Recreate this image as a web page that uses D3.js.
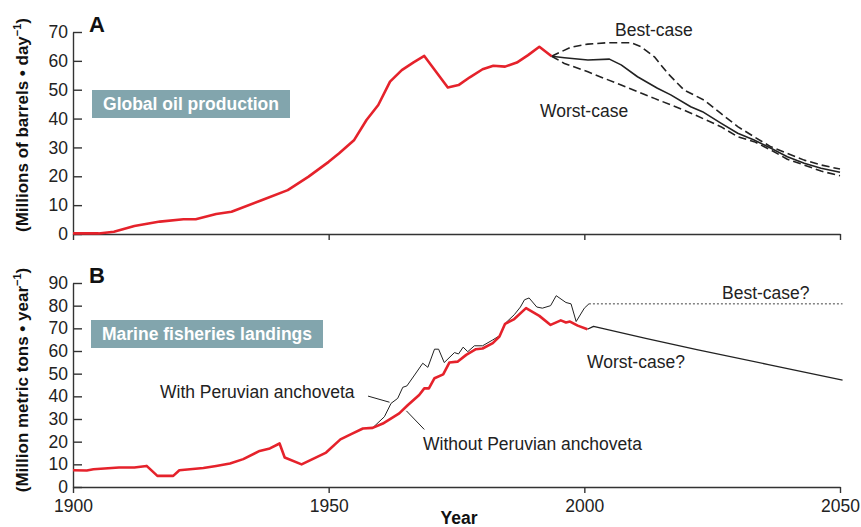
<!DOCTYPE html>
<html>
<head>
<meta charset="utf-8">
<script src="https://cdn.jsdelivr.net/npm/d3@7"></script>
<style>
  body { margin: 0; background: #fff; }
  svg { font-family: "Liberation Sans", Arial, Helvetica, sans-serif; }
  .axis path, .axis line { stroke: #333; stroke-width: 1.4; }
  .axis text { font-size: 17.5px; fill: #222; font-family: "Liberation Sans", Arial, sans-serif; }
</style>
</head>
<body>
<div id="chart"></div>
<script>
// ---- panel A : global oil production ----
var oilYears = [1900, 1905, 1908, 1912, 1917, 1921.6, 1924, 1928, 1931, 1937, 1942, 1946, 1950, 1952,
                1955, 1957.4, 1959.7, 1962, 1964.3, 1966.6, 1968.7, 1973.3, 1975.4, 1977.6, 1980.1,
                1982.2, 1984.5, 1986.8, 1989, 1991.2, 1993.6];
var oilValues = [0.2, 0.2, 0.8, 2.8, 4.3, 5.1, 5.1, 6.9, 7.7, 11.8, 15.2, 19.8, 25, 27.9,
                 32.6, 39.5, 44.7, 52.8, 56.8, 59.5, 61.7, 50.8, 51.6, 54.3, 57.1,
                 58.3, 58, 59.4, 62, 64.9, 61.6];

var midYears = [1993.6, 1996.1, 2000.7, 2004.9, 2007.2, 2010.4, 2014.3, 2016.9, 2020.8, 2023.1,
                2026.7, 2030, 2033.2, 2036.5, 2039.7, 2043, 2046.3, 2050];
var midValues = [61.6, 61.1, 60.3, 60.6, 58.6, 54.5, 50.5, 48.2, 44.1, 42.4,
                 38.4, 34.9, 32.6, 29.7, 26.8, 24.5, 22.8, 21.4];

var bestYears = [1993.6, 1997.3, 2000.7, 2004.6, 2009.1, 2011.1, 2013.7, 2016.3, 2019.5, 2023.4,
                 2026.7, 2030, 2033.2, 2036.5, 2039.7, 2043, 2046.3, 2050];
var bestValues = [61.6, 64.7, 65.8, 66.3, 66.3, 64.9, 61.4, 55.7, 49.9, 46.4,
                  41.8, 37.2, 33.7, 30.2, 27.9, 25.6, 23.9, 22.5];

var worstYears = [1993.6, 1996.1, 2000.7, 2007.2, 2013.7, 2020.2, 2026.7, 2030, 2033.2, 2036.5,
                  2039.7, 2043, 2046.3, 2050];
var worstValues = [61.6, 59.1, 56.2, 51.6, 47, 42.4, 37.2, 33.7, 32, 29.1,
                   25.9, 23.9, 21.8, 20.2];

// ---- panel B : marine fisheries landings ----
var fishYears = [1900, 1902.7, 1904, 1909, 1912, 1914.4, 1916.5, 1919.6, 1920.8, 1925.5, 1928, 1930.7,
                 1933.3, 1936.5, 1938.5, 1940.4, 1941.4, 1944.7, 1949.5, 1952.3, 1954.4, 1956.7, 1958.6,
                 1960.6, 1963.8, 1965.5, 1967.7, 1968.7, 1969.6, 1970.7, 1972.4, 1973.6, 1975.2, 1976.9,
                 1978.8, 1980.1, 1982.1, 1983.4, 1984.5, 1986.3, 1988.6, 1991.2, 1993.4, 1995.4, 1996.4,
                 1997.2, 1998.7, 2000.6];
var fishValues = [7.4, 7.3, 7.8, 8.6, 8.6, 9.3, 4.9, 4.9, 7.4, 8.4, 9.3, 10.4,
                  12.3, 15.9, 17, 19.2, 13, 10, 15.2, 21, 23.3, 25.8, 26.1,
                  28, 32.5, 36.2, 40.6, 43.5, 43.5, 48, 49.7, 54.9, 55.3, 58.3,
                  60.8, 61.1, 63.5, 66.4, 72, 74.1, 78.9, 75.5, 71.5, 73.5, 72.6,
                  73, 71.2, 69.6];

var anchYears = [1958.6, 1960.9, 1962.2, 1963.5, 1964.5, 1965.3, 1966.8, 1968.4, 1969.4, 1970.7,
                 1971.5, 1972.6, 1974.6, 1975.4, 1976.3, 1977.2, 1978.5, 1980.1, 1982.1, 1983.4,
                 1984.7, 1986.3, 1987.5, 1988.3, 1989.2, 1990.7, 1991.8, 1993.4, 1994.5, 1996.4,
                 1997.4, 1998.4, 2000, 2000.9];
var anchValues = [26.1, 31, 36.9, 39.1, 44, 44.6, 49.4, 54.6, 52.8, 60.8,
                  60.8, 54.9, 59.3, 58.7, 61.7, 59.7, 62.3, 62.3, 64.9, 66.7,
                  72.6, 76, 79.4, 82.6, 83.4, 79.4, 78.9, 80, 84.4, 81.4,
                  80.8, 73, 78.9, 80.8];

var fishBestYears = [2000.9, 2050.5];
var fishBestValues = [80.8, 80.8];

var fishWorstYears = [2000.6, 2001.8, 2012, 2022, 2036, 2050.5];
var fishWorstValues = [69.6, 70.9, 65.6, 60.6, 54, 47.2];

var xTicks = [1900, 1950, 2000, 2050];
var oilTicks = [0, 10, 20, 30, 40, 50, 60, 70];
var fishTicks = [0, 10, 20, 30, 40, 50, 60, 70, 80, 90];

var red = "#e5222b";

var svg = d3.select("#chart")
  .append("svg")
  .attr("width", 861)
  .attr("height", 527);

var x = d3.scaleLinear()
  .domain([1900, 2050])
  .range([73, 840]);

var yOil = d3.scaleLinear()
  .domain([0, 70])
  .range([234, 32]);

var yFish = d3.scaleLinear()
  .domain([0, 90])
  .range([487, 283]);

function pairs(xs, ys) {
  return xs.map(function(d, i) { return [d, ys[i]]; });
}

function drawLine(data, yScale, color, width, dash) {
  var line = d3.line()
    .x(function(d) { return x(d[0]); })
    .y(function(d) { return yScale(d[1]); });
  svg.append("path")
    .datum(data)
    .attr("d", line)
    .attr("fill", "none")
    .attr("stroke", color)
    .attr("stroke-width", width)
    .attr("stroke-linejoin", "round")
    .attr("stroke-dasharray", dash || null);
}

// axes panel A
svg.append("g")
  .attr("class", "axis")
  .attr("transform", "translate(0," + 234 + ")")
  .call(d3.axisBottom(x).tickValues(xTicks).tickSizeInner(6).tickSizeOuter(0).tickFormat(""));

svg.append("g")
  .attr("class", "axis")
  .attr("transform", "translate(" + 73 + ",0)")
  .call(d3.axisLeft(yOil).tickValues(oilTicks).tickSizeInner(-9).tickSizeOuter(0).tickPadding(5));

// axes panel B
svg.append("g")
  .attr("class", "axis")
  .attr("transform", "translate(0," + 487 + ")")
  .call(d3.axisBottom(x).tickValues(xTicks).tickSizeInner(6).tickSizeOuter(0).tickPadding(7)
    .tickFormat(d3.format("d")));

svg.append("g")
  .attr("class", "axis")
  .attr("transform", "translate(" + 73 + ",0)")
  .call(d3.axisLeft(yFish).tickValues(fishTicks).tickSizeInner(-9).tickSizeOuter(0).tickPadding(5));

svg.selectAll(".axis .domain").attr("stroke-width", 1.6);

// lines panel A
drawLine(pairs(bestYears, bestValues), yOil, "#222", 1.6, "8,4");
drawLine(pairs(worstYears, worstValues), yOil, "#222", 1.6, "8,4");
drawLine(pairs(midYears, midValues), yOil, "#222", 1.6);
drawLine(pairs(oilYears, oilValues), yOil, red, 2.6);

// lines panel B
drawLine(pairs(fishBestYears, fishBestValues), yFish, "#444", 1, "2,2");
drawLine(pairs(fishWorstYears, fishWorstValues), yFish, "#222", 1.3);
drawLine(pairs(anchYears, anchValues), yFish, "#222", 1);
drawLine(pairs(fishYears, fishValues), yFish, red, 2.6);

// leader lines for the anchoveta labels
svg.append("line")
  .attr("x1", x(1957.7)).attr("y1", yFish(40.1))
  .attr("x2", x(1961.9)).attr("y2", yFish(37.4))
  .attr("stroke", "#222").attr("stroke-width", 1);
svg.append("line")
  .attr("x1", x(1965.2)).attr("y1", yFish(33.6))
  .attr("x2", x(1968.7)).attr("y2", yFish(25.4))
  .attr("stroke", "#222").attr("stroke-width", 1);

// panel letters
svg.append("text").attr("x", 89).attr("y", 32)
  .attr("font-size", "22px").attr("font-weight", "bold").attr("fill", "#111").text("A");
svg.append("text").attr("x", 89).attr("y", 283)
  .attr("font-size", "22px").attr("font-weight", "bold").attr("fill", "#111").text("B");

// title boxes
var boxes = [
  { x: 92, y: 90, w: 198, h: 28, label: "Global oil production" },
  { x: 91, y: 320, w: 232, h: 28, label: "Marine fisheries landings" }
];
boxes.forEach(function(b) {
  svg.append("rect")
    .attr("x", b.x).attr("y", b.y)
    .attr("width", b.w).attr("height", b.h)
    .attr("fill", "#82a5ad");
  svg.append("text")
    .attr("x", b.x + b.w / 2).attr("y", b.y + b.h / 2 + 6)
    .attr("text-anchor", "middle")
    .attr("font-size", "17.5px").attr("font-weight", "bold")
    .attr("fill", "#fff")
    .text(b.label);
});

// annotations
var notes = [
  { x: 615, y: 36, t: "Best-case" },
  { x: 540, y: 117, t: "Worst-case" },
  { x: 722, y: 299, t: "Best-case?" },
  { x: 587, y: 368, t: "Worst-case?" },
  { x: 160, y: 398, t: "With Peruvian anchoveta" },
  { x: 423, y: 450, t: "Without Peruvian anchoveta" }
];
svg.selectAll("text.note")
  .data(notes)
  .enter()
  .append("text")
  .attr("class", "note")
  .attr("x", function(d) { return d.x; })
  .attr("y", function(d) { return d.y; })
  .attr("font-size", "17.5px")
  .attr("fill", "#222")
  .text(function(d) { return d.t; });

// axis titles
var t1 = svg.append("text")
  .attr("transform", "translate(" + 28 + "," + 125 + ") rotate(-90)")
  .attr("text-anchor", "middle")
  .attr("font-size", "17px").attr("font-weight", "bold")
  .attr("fill", "#111");
t1.append("tspan").text("(Millions of barrels \u2022 day");
t1.append("tspan").attr("dy", -7).attr("font-size", "11px").text("\u22121");
t1.append("tspan").attr("dy", 7).text(")");

var t2 = svg.append("text")
  .attr("transform", "translate(" + 28 + "," + 380 + ") rotate(-90)")
  .attr("text-anchor", "middle")
  .attr("font-size", "17px").attr("font-weight", "bold")
  .attr("fill", "#111");
t2.append("tspan").text("(Million metric tons \u2022 year");
t2.append("tspan").attr("dy", -7).attr("font-size", "11px").text("\u22121");
t2.append("tspan").attr("dy", 7).text(")");

svg.append("text")
  .attr("x", 459).attr("y", 524)
  .attr("text-anchor", "middle")
  .attr("font-size", "17.5px").attr("font-weight", "bold")
  .attr("fill", "#111")
  .text("Year");
</script>
</body>
</html>
